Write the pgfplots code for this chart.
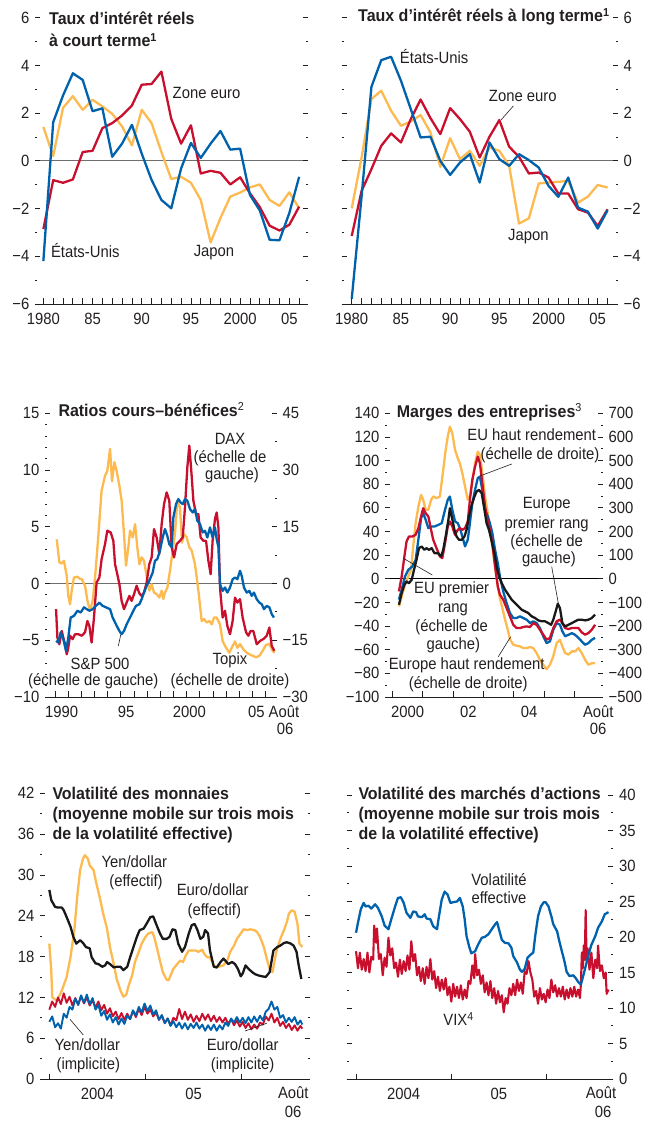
\documentclass[border=0pt]{standalone}
\usepackage{fontspec}
\setmainfont{Liberation Sans}[FakeStretch=0.91]
\newfontfamily\titfont{Liberation Sans}[FakeStretch=0.94]
\usepackage{pgfplots}
\pgfplotsset{compat=1.18}
\definecolor{txt}{RGB}{35,31,32}
\definecolor{cblue}{RGB}{0,98,172}
\definecolor{cred}{RGB}{200,16,46}
\definecolor{cyel}{RGB}{253,186,80}
\definecolor{cblk}{RGB}{25,25,25}
\definecolor{zgray}{RGB}{110,110,110}
\newcommand\lab{\fontsize{16.3}{18}\selectfont}
\newcommand\tit{\titfont\bfseries\fontsize{17}{21}\selectfont}
\newcommand\sups[1]{\raisebox{5.5pt}{\fontsize{11.5}{12}\selectfont #1}}
\pgfplotsset{
 base/.style={scale only axis, anchor=south west, axis line style={draw=none},
   clip=false,
   tick align=inside, major tick length=5.5pt, minor tick length=2.5pt,
   tick style={line width=0.8pt, color=txt},
   tick label style={font=\lab, text=txt, inner sep=0pt},
   xticklabel shift=8.5pt, yticklabel shift=5.5pt,
   xtick pos=left, xticklabel pos=left,
   every axis plot/.append style={line width=2.3pt, line join=round, mark=none},
 },
 zline/.style={extra y ticks={0}, extra y tick labels={}, extra y tick style={grid=major, major grid style={#1, line width=1pt}}},
 noxlab/.style={extra x tick style={major tick length=0pt}},
}
\begin{document}
\begin{tikzpicture}
\path[use as bounding box] (0,0) rectangle (650pt,1123pt);

% ---------------- Panel 1 ----------------
\begin{axis}[base, at={(35pt,819pt)}, width=273pt, height=286.3pt,
  xmin=1979.15, xmax=2006.9, ymin=-6, ymax=6,
  xtick={1980,1981,...,2006},
  xticklabels={1980,,,,,85,,,,,90,,,,,95,,,,,2000,,,,,05,},
  ytick={-6,-4,...,6}, yticklabels={−6,−4,−2,0,2,4,6},
  minor ytick={-5,-3,...,5}, yticklabel pos=left, zline=zgray]
\addplot[cyel] coordinates {(1980,1.42)(1981,0.2)(1982,2.22)(1983,2.71)(1984,2.14)(1985,2.56)(1986,2.28)(1987,1.97)(1988,1.44)(1989,0.65)(1990,2.14)(1991,1.58)(1992,0.37)(1993,-0.76)(1994,-0.67)(1995,-0.92)(1996,-1.64)(1997,-3.42)(1998,-2.4)(1999,-1.5)(2000,-1.33)(2001,-1.11)(2002,-0.99)(2003,-1.64)(2004,-1.89)(2005,-1.32)(2006,-1.99)};
\addplot[cred] coordinates {(1980,-2.86)(1981,-0.81)(1982,-0.92)(1983,-0.78)(1984,0.37)(1985,0.42)(1986,1.37)(1987,1.58)(1988,1.9)(1989,2.32)(1990,3.19)(1991,3.22)(1992,3.74)(1993,1.76)(1994,0.72)(1995,1.49)(1996,-0.53)(1997,-0.42)(1998,-0.5)(1999,-0.99)(2000,-0.69)(2001,-1.36)(2002,-1.94)(2003,-2.72)(2004,-2.92)(2005,-2.68)(2006,-1.92)};
\addplot[cblue] coordinates {(1980,-4.2)(1981,1.62)(1982,2.74)(1983,3.67)(1984,3.39)(1985,2.08)(1986,2.2)(1987,0.17)(1988,0.72)(1989,1.51)(1990,0.3)(1991,-0.8)(1992,-1.64)(1993,-1.99)(1994,-0.32)(1995,0.75)(1996,0.12)(1997,0.72)(1998,1.25)(1999,0.47)(2000,0.51)(2001,-1.43)(2002,-2.08)(2003,-3.31)(2004,-3.33)(2005,-2.19)(2006,-0.67)};
\draw[txt, line width=0.8pt] (rel axis cs:0,0) -- (rel axis cs:1,0);
\end{axis}

% ---------------- Panel 2 ----------------
\begin{axis}[base, at={(341.7pt,819pt)}, width=276.3pt, height=286.3pt,
  xmin=1978.98, xmax=2007.06, ymin=-6, ymax=6,
  xtick={1980,1981,...,2006},
  xticklabels={1980,,,,,85,,,,,90,,,,,95,,,,,2000,,,,,05,},
  ytick={-6,-4,...,6}, yticklabels={−6,−4,−2,0,2,4,6},
  minor ytick={-5,-3,...,5}, yticklabel pos=right, zline=zgray]
\addplot[cyel] coordinates {(1980,-1.99)(1981,0.14)(1982,2.59)(1983,2.94)(1984,2.1)(1985,1.47)(1986,1.65)(1987,1.92)(1988,1.19)(1989,-0.25)(1990,0.95)(1991,0.07)(1992,0.42)(1993,-0.21)(1994,0.56)(1995,0.42)(1996,-0.21)(1997,-2.63)(1998,-2.41)(1999,-0.95)(2000,-0.91)(2001,-0.88)(2002,-0.84)(2003,-1.75)(2004,-1.5)(2005,-1.01)(2006,-1.12)};
\addplot[cred] coordinates {(1980,-3.15)(1981,-1.26)(1982,-0.35)(1983,0.63)(1984,1.15)(1985,0.77)(1986,1.75)(1987,2.57)(1988,1.79)(1989,1.12)(1990,2.21)(1991,1.75)(1992,1.22)(1993,0.14)(1994,1.01)(1995,1.71)(1996,0.59)(1997,0.17)(1998,-0.53)(1999,-0.49)(2000,-0.7)(2001,-1.37)(2002,-1.37)(2003,-2.03)(2004,-2.17)(2005,-2.73)(2006,-2.03)};
\addplot[cblue] coordinates {(1980,-5.78)(1981,-1.5)(1982,3.1)(1983,4.22)(1984,4.36)(1985,3.36)(1986,2.17)(1987,0.98)(1988,1.01)(1989,0)(1990,-0.59)(1991,-0.07)(1992,0.28)(1993,-0.91)(1994,0.77)(1995,0.07)(1996,-0.21)(1997,0.28)(1998,0.03)(1999,-0.28)(2000,-1.05)(2001,-1.51)(2002,-0.7)(2003,-1.96)(2004,-2.13)(2005,-2.84)(2006,-2.07)};
\draw[txt, line width=0.8pt] (rel axis cs:0,0) -- (rel axis cs:1,0);
\end{axis}

% ---------------- Panel 3 (right scale: Topix) ----------------
\begin{axis}[base, at={(45pt,426pt)}, width=232pt, height=283.7pt,
  xmin=1989.24, xmax=2006.86, ymin=-30, ymax=45,
  xtick=\empty, ytick={-30,-15,...,45}, yticklabels={−30,−15,0,15,30,45},
  minor ytick={-22.5,-7.5,7.5,22.5,37.5}, ytick pos=right, yticklabel pos=right, zline=zgray]
\addplot[cyel] coordinates {(1990.13,11.7)(1990.33,5.6)(1990.51,5.3)(1990.68,6.0)(1990.89,2.0)(1991.01,-3.3)(1991.14,-5.5)(1991.27,-1.9)(1991.44,1.6)(1991.70,1.8)(1991.90,1.2)(1992.03,1.2)(1992.28,-0.6)(1992.46,-4.5)(1992.66,-7.2)(1992.86,-4.5)(1993.04,1.5)(1993.29,12.6)(1993.54,24.6)(1993.80,28.5)(1993.97,29.7)(1994.18,35.6)(1994.33,27)(1994.51,32.1)(1994.68,29.7)(1994.89,25.8)(1995.06,21.9)(1995.24,13.1)(1995.39,4.7)(1995.57,9.6)(1995.70,14)(1995.90,12.2)(1996.08,15.7)(1996.25,9.6)(1996.41,5.1)(1996.58,6.9)(1996.76,6)(1996.96,2)(1997.16,-1.9)(1997.34,-0.2)(1997.52,-2.4)(1997.72,-2.8)(1997.92,-3.7)(1998.10,-1.9)(1998.23,-4.1)(1998.35,-2.4)(1998.53,-1.1)(1998.73,3.3)(1998.94,8.7)(1999.11,13.1)(1999.29,21.9)(1999.49,20.1)(1999.65,10.8)(1999.80,13.1)(2000.00,12.2)(2000.20,9.6)(2000.38,8.7)(2000.63,5.1)(2000.89,-1.9)(2001.14,-9.9)(2001.32,-9.4)(2001.52,-10.3)(2001.72,-9.9)(2001.90,-10.8)(2002.08,-9)(2002.28,-9)(2002.53,-10.8)(2002.73,-15.2)(2002.99,-17)(2003.24,-18.3)(2003.42,-17)(2003.67,-15.3)(2003.85,-17)(2004.05,-16)(2004.30,-17.4)(2004.56,-18.3)(2004.76,-18.7)(2005.01,-19.1)(2005.27,-19.5)(2005.52,-19.1)(2005.77,-17.8)(2006.03,-16.2)(2006.28,-16)(2006.53,-17.8)(2006.68,-18.3)};
\end{axis}
% ---------------- Panel 3 (left scale) ----------------
\begin{axis}[base, noxlab, at={(45pt,426pt)}, width=232pt, height=283.7pt,
  xmin=1989.24, xmax=2006.86, ymin=-10, ymax=15,
  xtick={1990,1991,...,2006}, xticklabels={},
  extra x ticks={1990.5,1995.4,2000.2,2005.3}, extra x tick labels={1990,95,2000,05},
  ytick={-10,-5,...,15}, yticklabels={−10,−5,0,5,10,15},
  minor ytick={-9,-8,-7,-6,-4,-3,-2,-1,1,2,3,4,6,7,8,9,11,12,13,14}, ytick pos=left, yticklabel pos=left]
\addplot[cred] coordinates {(1990.08,-2.26)(1990.18,-4.76)(1990.33,-5.35)(1990.51,-4.18)(1990.63,-4.76)(1990.76,-5.35)(1990.89,-6.24)(1991.01,-5.65)(1991.14,-4.6)(1991.34,-4.9)(1991.52,-4.47)(1991.77,-4.47)(1992.03,-4.6)(1992.28,-4.3)(1992.46,-3.3)(1992.61,-3.74)(1992.78,-5.2)(1992.96,-3.0)(1993.16,0.09)(1993.37,0.53)(1993.54,2.15)(1993.80,3.47)(1993.97,4.65)(1994.23,4.5)(1994.43,3.76)(1994.56,1.7)(1994.73,0.82)(1994.89,-0.06)(1995.06,-1.53)(1995.24,-2.26)(1995.44,-1.68)(1995.65,-1.09)(1995.82,-1.53)(1996.00,-0.94)(1996.20,-0.2)(1996.41,-0.88)(1996.58,-1.09)(1996.76,-0.8)(1996.96,0.09)(1997.16,1.7)(1997.34,2.3)(1997.52,4.8)(1997.72,4.06)(1997.92,2.6)(1998.10,5.24)(1998.28,7.0)(1998.48,8.03)(1998.68,7.3)(1998.86,3.2)(1999.04,2.3)(1999.24,3.47)(1999.49,3.76)(1999.70,4.06)(1999.87,6.7)(2000.05,10.24)(2000.20,12.15)(2000.35,9.94)(2000.51,7.3)(2000.71,6.12)(2000.89,6.12)(2001.06,4.06)(2001.27,3.76)(2001.47,3.76)(2001.65,2.0)(2001.82,0.82)(2001.97,3.76)(2002.15,5.7)(2002.28,6.26)(2002.41,4.94)(2002.53,-0.35)(2002.73,-3.0)(2002.91,-2.4)(2003.09,-3.74)(2003.29,-4.47)(2003.49,-3.3)(2003.67,-1.24)(2003.85,-1.68)(2004.05,-1.38)(2004.25,-3.0)(2004.51,-4.3)(2004.68,-4.6)(2004.86,-4.18)(2005.06,-4.18)(2005.32,-5.35)(2005.57,-5.06)(2005.82,-4.9)(2006.08,-4.6)(2006.28,-3.88)(2006.46,-5.5)(2006.66,-5.94)};
\addplot[cblue] coordinates {(1990.08,-5.06)(1990.25,-5.2)(1990.43,-4.3)(1990.63,-4.9)(1990.84,-5.94)(1991.01,-4.76)(1991.19,-3.0)(1991.44,-2.85)(1991.70,-2.4)(1991.95,-2.56)(1992.20,-2.1)(1992.41,-2.26)(1992.61,-2.4)(1992.86,-2.26)(1993.11,-1.97)(1993.37,-1.68)(1993.62,-1.97)(1993.87,-2.1)(1994.18,-2.26)(1994.38,-3.0)(1994.63,-3.6)(1994.89,-4.18)(1995.06,-4.47)(1995.24,-4.18)(1995.44,-3.6)(1995.70,-3.0)(1995.95,-2.4)(1996.15,-1.97)(1996.41,-1.82)(1996.58,-1.38)(1996.76,-0.8)(1996.96,-0.2)(1997.16,0.24)(1997.42,0.97)(1997.59,2.0)(1997.77,2.15)(1997.97,2.9)(1998.18,4.06)(1998.35,4.8)(1998.53,4.2)(1998.68,3.47)(1998.86,3.2)(1998.99,5.82)(1999.19,7.0)(1999.37,7.44)(1999.54,7.15)(1999.70,7.0)(1999.87,7.44)(2000.05,7.3)(2000.25,6.56)(2000.46,6.26)(2000.63,6.56)(2000.81,5.53)(2001.01,5.24)(2001.22,4.5)(2001.39,4.65)(2001.57,4.06)(2001.77,4.94)(2001.97,4.06)(2002.15,4.94)(2002.28,3.9)(2002.41,3.2)(2002.53,-0.06)(2002.73,-0.65)(2002.91,-0.35)(2003.09,-0.8)(2003.29,-0.35)(2003.49,0.38)(2003.67,0.53)(2003.85,0.38)(2004.05,1.12)(2004.18,0.68)(2004.35,-0.35)(2004.56,-0.8)(2004.76,-0.65)(2004.94,-1.09)(2005.11,-0.8)(2005.32,-1.38)(2005.52,-1.68)(2005.70,-1.82)(2005.87,-2.26)(2006.08,-1.97)(2006.28,-2.1)(2006.46,-2.7)(2006.63,-3.0)};
\draw[txt, line width=0.8pt] (rel axis cs:0,0) -- (rel axis cs:1,0);
\end{axis}

% ---------------- Panel 4 (right scale: high yield) ----------------
\begin{axis}[base, at={(385pt,426pt)}, width=218pt, height=283.7pt,
  xmin=1999.75, xmax=2006.94, ymin=-500, ymax=700,
  xtick=\empty, ytick={-500,-400,...,700}, yticklabels={−500,−400,−300,−200,−100,0,100,200,300,400,500,600,700},
  minor ytick={-450,-350,...,650}, ytick pos=right, yticklabel pos=right, zline=black]
\addplot[cyel] coordinates {(2000.21,-117)(2000.30,-75)(2000.41,-25)(2000.52,10)(2000.61,38)(2000.68,137)(2000.76,235)(2000.85,305)(2000.94,355)(2001.01,334)(2001.09,292)(2001.18,292)(2001.27,334)(2001.34,348)(2001.45,341)(2001.56,348)(2001.67,460)(2001.75,545)(2001.82,602)(2001.89,643)(2001.97,615)(2002.06,545)(2002.15,510)(2002.22,488)(2002.30,447)(2002.39,390)(2002.48,334)(2002.55,348)(2002.63,412)(2002.72,488)(2002.81,538)(2002.88,524)(2002.96,447)(2003.05,348)(2003.14,278)(2003.21,207)(2003.29,137)(2003.38,52)(2003.47,-33)(2003.54,-82)(2003.62,-124)(2003.71,-173)(2003.80,-216)(2003.87,-255)(2003.98,-279)(2004.09,-283)(2004.20,-286)(2004.31,-293)(2004.42,-293)(2004.53,-289)(2004.64,-293)(2004.75,-314)(2004.86,-343)(2004.97,-364)(2005.08,-382)(2005.19,-364)(2005.30,-328)(2005.41,-272)(2005.52,-258)(2005.60,-286)(2005.69,-314)(2005.80,-321)(2005.91,-307)(2006.02,-307)(2006.13,-293)(2006.24,-314)(2006.35,-343)(2006.46,-364)(2006.57,-357)(2006.68,-357)};
\addplot[cblue] coordinates {(2000.21,-88)(2000.30,-46)(2000.41,10)(2000.52,38)(2000.65,52)(2000.76,80)(2000.85,165)(2000.94,256)(2001.01,278)(2001.09,250)(2001.18,214)(2001.27,221)(2001.38,221)(2001.51,228)(2001.62,235)(2001.73,292)(2001.82,334)(2001.89,348)(2001.97,292)(2002.06,243)(2002.15,235)(2002.22,214)(2002.30,179)(2002.39,137)(2002.48,165)(2002.55,235)(2002.63,320)(2002.72,376)(2002.81,426)(2002.88,432)(2002.96,376)(2003.05,292)(2003.14,264)(2003.21,235)(2003.29,193)(2003.38,122)(2003.47,66)(2003.54,10)(2003.65,-54)(2003.76,-103)(2003.87,-145)(2003.98,-166)(2004.09,-166)(2004.20,-159)(2004.31,-166)(2004.42,-173)(2004.53,-187)(2004.64,-180)(2004.75,-187)(2004.86,-209)(2004.97,-243)(2005.08,-272)(2005.19,-265)(2005.30,-216)(2005.41,-187)(2005.52,-194)(2005.60,-222)(2005.69,-243)(2005.80,-237)(2005.91,-230)(2006.02,-237)(2006.13,-250)(2006.24,-265)(2006.35,-279)(2006.46,-272)(2006.57,-258)(2006.68,-250)};
\end{axis}
% ---------------- Panel 4 (left scale: investment grade) ----------------
\begin{axis}[base, noxlab, at={(385pt,426pt)}, width=218pt, height=283.7pt,
  xmin=1999.75, xmax=2006.94, ymin=-100, ymax=140,
  xtick={2000,...,2006}, xticklabels={},
  extra x ticks={2000.5,2002.5,2004.5}, extra x tick labels={2000,02,04},
  ytick={-100,-80,...,140}, yticklabels={−100,−80,−60,−40,−20,0,20,40,60,80,100,120,140},
  minor ytick={-90,-70,...,130}, ytick pos=left, yticklabel pos=left]
\addplot[cred] coordinates {(2000.21,-10.7)(2000.30,2)(2000.39,18.9)(2000.46,31.5)(2000.54,35.8)(2000.65,35.8)(2000.76,37.2)(2000.85,42.8)(2000.94,52.7)(2001.01,59.7)(2001.09,55.5)(2001.18,52.7)(2001.27,41.4)(2001.34,33)(2001.45,25.9)(2001.56,18.9)(2001.64,17.5)(2001.73,30.1)(2001.82,44.2)(2001.89,48.5)(2001.97,44.2)(2002.06,37.2)(2002.15,41.4)(2002.22,42.8)(2002.30,41.4)(2002.39,42.8)(2002.48,48.5)(2002.55,66.8)(2002.63,83.7)(2002.72,94.9)(2002.81,103.4)(2002.88,97.7)(2002.96,80.8)(2003.05,61.1)(2003.14,48.5)(2003.21,41.4)(2003.29,30.1)(2003.38,10.4)(2003.47,-6.5)(2003.54,-13.5)(2003.65,-17.7)(2003.76,-24.8)(2003.87,-31.8)(2003.98,-38.9)(2004.09,-41.7)(2004.20,-41.7)(2004.31,-40.8)(2004.42,-40.3)(2004.53,-40.8)(2004.64,-37.5)(2004.75,-38.9)(2004.86,-43.1)(2004.97,-47.3)(2005.08,-51.5)(2005.19,-50.1)(2005.30,-41.7)(2005.41,-36)(2005.52,-34.6)(2005.60,-37.5)(2005.69,-41.7)(2005.80,-42.5)(2005.91,-41.7)(2006.02,-41.7)(2006.13,-41.7)(2006.24,-45.4)(2006.35,-47.3)(2006.46,-45.9)(2006.57,-43.1)(2006.68,-38.9)};
\addplot[cblk] coordinates {(2000.21,-22)(2000.30,-12.1)(2000.39,-5.1)(2000.46,-2.3)(2000.54,-3.7)(2000.63,-0.8)(2000.72,9)(2000.79,16.1)(2000.87,25.9)(2000.96,27.3)(2001.05,24.5)(2001.12,25.9)(2001.20,24.5)(2001.29,25.9)(2001.38,21.7)(2001.49,21.7)(2001.60,18.9)(2001.67,24.5)(2001.75,35.8)(2001.84,49.9)(2001.89,59.7)(2001.95,52.7)(2002.04,41.4)(2002.11,35.8)(2002.19,33)(2002.28,33)(2002.37,35.8)(2002.44,41.4)(2002.52,52.7)(2002.61,62.5)(2002.70,69.6)(2002.77,73.8)(2002.85,75.2)(2002.94,72.4)(2003.03,58.3)(2003.10,47)(2003.18,41.4)(2003.27,31.5)(2003.36,21.7)(2003.43,10.4)(2003.51,2)(2003.60,-3.7)(2003.71,-9.3)(2003.82,-13.5)(2003.93,-17.7)(2004.04,-20.6)(2004.15,-23.4)(2004.26,-26.2)(2004.37,-27.6)(2004.48,-29)(2004.59,-31.8)(2004.70,-33.2)(2004.81,-35.2)(2004.92,-36)(2005.03,-36)(2005.14,-37.5)(2005.23,-38.9)(2005.30,-34.6)(2005.38,-27.6)(2005.45,-21.1)(2005.52,-24.8)(2005.60,-37.5)(2005.69,-40.3)(2005.80,-38.9)(2005.91,-37.5)(2006.02,-36)(2006.13,-34.6)(2006.24,-34.6)(2006.35,-35.2)(2006.46,-34.6)(2006.57,-33.2)(2006.68,-30.4)};
\draw[txt, line width=0.8pt] (rel axis cs:0,0) -- (rel axis cs:1,0);
\end{axis}

% ---------------- Panel 5 ----------------
\begin{axis}[base, noxlab, at={(40pt,44pt)}, width=270pt, height=285.7pt,
  xmin=2003.903, xmax=2006.71, ymin=0, ymax=42,
  xtick={2004,2005,2006}, xticklabels={},
  extra x ticks={2004.5,2005.5}, extra x tick labels={2004,05},
  ytick={0,6,...,42}, minor ytick={3,9,...,39}, yticklabel pos=left,
  yticklabels={0,6,12,18,24,30,36,42}]
\addplot[cyel] coordinates {(2004.00,19.9)(2004.02,16)(2004.03,12)(2004.08,11.5)(2004.13,13)(2004.18,15)(2004.22,17.9)(2004.26,21.9)(2004.29,26.8)(2004.32,30.7)(2004.35,32.4)(2004.37,32.9)(2004.40,32.4)(2004.42,31.4)(2004.46,30.7)(2004.49,28.7)(2004.53,26.3)(2004.56,24.3)(2004.60,22.1)(2004.63,19.4)(2004.67,16.9)(2004.70,14.7)(2004.74,13)(2004.77,12.1)(2004.80,12.4)(2004.82,13.5)(2004.86,15.2)(2004.89,17.2)(2004.93,18.7)(2004.96,19.9)(2005.00,20.9)(2005.03,21.4)(2005.07,21.6)(2005.09,20.9)(2005.12,19.2)(2005.15,17.4)(2005.18,15.7)(2005.22,14.6)(2005.24,14.5)(2005.26,15.2)(2005.29,16.2)(2005.33,16.9)(2005.36,17.4)(2005.39,17.2)(2005.42,18.2)(2005.45,18.9)(2005.48,18.9)(2005.52,18.9)(2005.55,18.7)(2005.59,19)(2005.61,18.4)(2005.64,17.9)(2005.67,17.9)(2005.71,16.7)(2005.74,16.4)(2005.78,16.6)(2005.81,16.7)(2005.85,17.4)(2005.88,18.7)(2005.92,19.6)(2005.95,20.6)(2005.99,21.4)(2006.02,22)(2006.06,21.9)(2006.09,22)(2006.13,21.9)(2006.16,21.6)(2006.19,20.9)(2006.23,19.4)(2006.26,17.7)(2006.29,16.2)(2006.32,15.7)(2006.33,16.5)(2006.36,18.7)(2006.39,20.1)(2006.41,20.9)(2006.44,21.9)(2006.47,23.1)(2006.49,24.3)(2006.52,24.8)(2006.55,24.6)(2006.58,22.8)(2006.60,19.9)(2006.63,19.4)};
\addplot[cblk] coordinates {(2004.00,27.8)(2004.02,26.3)(2004.06,25.3)(2004.09,25.2)(2004.13,25.2)(2004.15,24.8)(2004.18,23.8)(2004.22,22.4)(2004.25,20.9)(2004.28,19.9)(2004.32,20.4)(2004.35,20)(2004.38,19.4)(2004.42,19.2)(2004.44,17.9)(2004.48,17)(2004.51,16.9)(2004.55,16.5)(2004.58,16.7)(2004.60,17.2)(2004.63,16.9)(2004.67,16.4)(2004.70,16.5)(2004.74,16.5)(2004.77,16)(2004.81,16.5)(2004.84,17.9)(2004.88,19.6)(2004.91,20.9)(2004.94,21.9)(2004.98,22.1)(2005.01,22.8)(2005.05,23.8)(2005.08,23.9)(2005.11,22.8)(2005.15,21.4)(2005.18,20.6)(2005.22,20.6)(2005.25,20.9)(2005.28,22)(2005.31,21.9)(2005.34,19.9)(2005.38,18.7)(2005.41,19.4)(2005.45,21.4)(2005.48,22.6)(2005.51,22.8)(2005.54,21.9)(2005.57,20.6)(2005.60,20.9)(2005.62,21.9)(2005.65,21.4)(2005.67,18.9)(2005.71,16.5)(2005.74,16.4)(2005.78,17.2)(2005.81,17.7)(2005.83,17.4)(2005.86,16.9)(2005.90,17.2)(2005.93,16.9)(2005.96,16.2)(2005.99,15.1)(2006.01,15.5)(2006.04,16.7)(2006.07,16.2)(2006.11,15.7)(2006.14,15.4)(2006.18,15.2)(2006.21,15.1)(2006.25,15)(2006.29,15.7)(2006.33,18.9)(2006.37,19.4)(2006.40,19.6)(2006.44,20)(2006.47,20.1)(2006.51,19.9)(2006.54,19.6)(2006.57,18.7)(2006.59,16.9)(2006.62,14.7)};
\addplot[cred, line width=1.9pt] coordinates {(2004.00,10.2)(2004.03,11.4)(2004.06,10.6)(2004.09,12.0)(2004.12,11.0)(2004.15,12.6)(2004.18,11.2)(2004.21,12.1)(2004.24,10.8)(2004.27,11.9)(2004.30,10.9)(2004.33,12.2)(2004.36,11.1)(2004.39,12.0)(2004.42,10.8)(2004.45,11.6)(2004.48,10.5)(2004.51,11.4)(2004.54,10.1)(2004.57,10.9)(2004.60,9.6)(2004.63,10.4)(2004.66,9.2)(2004.69,9.9)(2004.72,8.8)(2004.75,9.7)(2004.78,8.7)(2004.81,9.6)(2004.84,8.8)(2004.87,10.0)(2004.90,9.1)(2004.93,10.3)(2004.96,9.4)(2004.99,10.6)(2005.02,9.6)(2005.05,10.2)(2005.08,9.2)(2005.11,9.8)(2005.14,8.7)(2005.17,9.3)(2005.20,8.2)(2005.23,8.9)(2005.26,7.9)(2005.29,9.0)(2005.32,8.6)(2005.35,10.3)(2005.38,8.8)(2005.41,9.9)(2005.44,8.7)(2005.47,9.5)(2005.50,8.4)(2005.53,9.3)(2005.56,8.5)(2005.59,9.6)(2005.62,8.7)(2005.65,9.5)(2005.68,8.5)(2005.71,9.3)(2005.74,8.4)(2005.77,9.1)(2005.80,8.3)(2005.83,9.0)(2005.86,8.1)(2005.89,8.8)(2005.92,7.9)(2005.95,8.6)(2005.98,7.7)(2006.01,8.4)(2006.04,7.5)(2006.07,8.2)(2006.10,7.3)(2006.13,8.0)(2006.16,7.4)(2006.19,8.3)(2006.22,8.0)(2006.25,9.2)(2006.28,8.6)(2006.31,9.6)(2006.34,8.3)(2006.37,9.0)(2006.40,7.8)(2006.43,8.4)(2006.46,7.5)(2006.49,8.1)(2006.52,7.2)(2006.55,7.9)(2006.58,7.1)(2006.61,7.8)(2006.63,7.4)};
\addplot[cblue, line width=1.9pt] coordinates {(2004.00,8.4)(2004.03,9.2)(2004.06,7.6)(2004.09,8.2)(2004.12,7.4)(2004.15,9.6)(2004.18,9.0)(2004.21,10.6)(2004.24,10.2)(2004.27,11.8)(2004.30,10.9)(2004.33,12.3)(2004.36,11.2)(2004.39,12.4)(2004.42,11.0)(2004.45,11.9)(2004.48,10.2)(2004.51,10.9)(2004.54,9.3)(2004.57,10.0)(2004.60,8.7)(2004.63,9.5)(2004.66,8.3)(2004.69,9.1)(2004.72,8.0)(2004.75,8.9)(2004.78,8.1)(2004.81,9.3)(2004.84,8.8)(2004.87,10.1)(2004.90,9.3)(2004.93,10.6)(2004.96,9.8)(2004.99,11.1)(2005.02,10.0)(2005.05,10.8)(2005.08,9.5)(2005.11,10.1)(2005.14,8.7)(2005.17,9.4)(2005.20,8.2)(2005.23,8.9)(2005.26,7.8)(2005.29,8.5)(2005.32,7.6)(2005.35,8.3)(2005.38,7.4)(2005.41,8.2)(2005.44,7.3)(2005.47,8.1)(2005.50,7.5)(2005.53,8.3)(2005.56,7.4)(2005.59,8.0)(2005.62,7.1)(2005.65,7.9)(2005.68,7.2)(2005.71,8.0)(2005.74,7.1)(2005.77,7.9)(2005.80,7.3)(2005.83,8.3)(2005.86,7.8)(2005.89,8.9)(2005.92,8.3)(2005.95,9.1)(2005.98,8.3)(2006.01,9.0)(2006.04,8.2)(2006.07,9.1)(2006.10,8.3)(2006.13,9.2)(2006.16,8.4)(2006.19,9.3)(2006.22,8.6)(2006.25,9.9)(2006.28,10.3)(2006.31,11.4)(2006.34,10.2)(2006.37,10.6)(2006.40,9.0)(2006.43,9.4)(2006.46,8.3)(2006.49,9.0)(2006.52,8.4)(2006.55,9.1)(2006.58,8.0)(2006.61,8.6)(2006.63,8.0)};
\draw[txt, line width=0.8pt] (rel axis cs:0,0) -- (rel axis cs:1,0);
\end{axis}

% ---------------- Panel 6 ----------------
\begin{axis}[base, noxlab, at={(346.7pt,44pt)}, width=266.6pt, height=284pt,
  xmin=2003.902, xmax=2006.70, ymin=0, ymax=40,
  xtick={2004,2005,2006}, xticklabels={},
  extra x ticks={2004.5,2005.5}, extra x tick labels={2004,05},
  ytick={0,5,...,40}, minor ytick={2.5,7.5,...,37.5}, yticklabel pos=right,
  yticklabels={0,5,10,15,20,25,30,35,40}]
\addplot[cred, line width=2.1pt] coordinates {(2004.00,18.0)(2004.02,15.6)(2004.04,17.8)(2004.06,15.4)(2004.08,16.9)(2004.10,15.2)(2004.12,17.8)(2004.14,15.0)(2004.16,17.2)(2004.18,16.8)(2004.19,21.6)(2004.21,19.2)(2004.22,21.2)(2004.24,16.9)(2004.26,17.6)(2004.28,14.6)(2004.30,17.1)(2004.32,15.8)(2004.34,19.9)(2004.36,17.4)(2004.38,18.4)(2004.40,15.6)(2004.42,16.4)(2004.44,14.4)(2004.46,16.8)(2004.48,14.8)(2004.50,16.6)(2004.52,15.2)(2004.54,17.4)(2004.56,15.4)(2004.58,19.4)(2004.60,16.6)(2004.62,17.6)(2004.64,14.6)(2004.66,15.8)(2004.68,13.8)(2004.70,15.6)(2004.72,13.4)(2004.74,15.8)(2004.76,14.2)(2004.78,16.9)(2004.80,14.0)(2004.82,15.2)(2004.84,12.8)(2004.86,14.4)(2004.88,12.4)(2004.90,14.0)(2004.92,12.6)(2004.94,14.2)(2004.96,11.8)(2004.98,13.0)(2005.00,10.9)(2005.02,13.4)(2005.04,11.6)(2005.06,13.0)(2005.08,11.4)(2005.10,13.2)(2005.12,11.2)(2005.14,12.6)(2005.16,11.4)(2005.18,13.8)(2005.20,13.4)(2005.22,16.0)(2005.24,14.2)(2005.25,17.6)(2005.27,14.6)(2005.29,15.4)(2005.31,13.4)(2005.33,14.6)(2005.35,12.2)(2005.37,13.6)(2005.39,11.8)(2005.41,13.8)(2005.43,11.4)(2005.45,12.8)(2005.47,10.6)(2005.49,12.4)(2005.51,10.8)(2005.53,11.8)(2005.55,9.4)(2005.57,11.4)(2005.59,10.6)(2005.61,12.8)(2005.63,11.8)(2005.65,13.4)(2005.67,11.8)(2005.69,14.0)(2005.71,12.4)(2005.73,13.6)(2005.75,12.0)(2005.77,15.2)(2005.79,14.8)(2005.81,16.6)(2005.83,15.0)(2005.85,14.0)(2005.87,11.6)(2005.89,12.4)(2005.91,10.6)(2005.93,12.8)(2005.95,11.2)(2005.97,12.0)(2005.99,10.8)(2006.01,12.6)(2006.03,11.4)(2006.05,14.0)(2006.07,12.2)(2006.09,13.2)(2006.11,11.6)(2006.13,12.8)(2006.15,11.6)(2006.17,13.0)(2006.19,11.2)(2006.21,12.6)(2006.23,11.4)(2006.25,12.8)(2006.27,11.6)(2006.29,13.0)(2006.31,11.6)(2006.33,12.6)(2006.35,11.4)(2006.36,13.4)(2006.37,17.8)(2006.38,15.6)(2006.39,18.8)(2006.40,16.8)(2006.41,23.8)(2006.42,16.6)(2006.43,18.4)(2006.45,15.4)(2006.47,17.8)(2006.49,14.2)(2006.51,16.8)(2006.53,15.6)(2006.54,18.8)(2006.56,15.2)(2006.58,16.0)(2006.60,14.2)(2006.62,15.0)(2006.63,12.0)(2006.65,12.6)};
\addplot[cblue] coordinates {(2004.00,20.6)(2004.02,22)(2004.05,23.9)(2004.08,24.8)(2004.10,24.3)(2004.13,24.4)(2004.16,24)(2004.20,24.6)(2004.23,24.1)(2004.27,22.9)(2004.30,21.6)(2004.34,21.1)(2004.37,22.5)(2004.41,24.3)(2004.44,25.5)(2004.47,25.6)(2004.50,24.8)(2004.53,23.4)(2004.57,22.7)(2004.60,23.6)(2004.63,23.5)(2004.65,22.9)(2004.69,22.8)(2004.72,23.2)(2004.74,22.6)(2004.78,22.5)(2004.81,21.5)(2004.85,21.1)(2004.87,22.9)(2004.90,25.3)(2004.93,26.4)(2004.96,26)(2004.99,24.8)(2005.02,24.9)(2005.06,25)(2005.09,25.5)(2005.12,24.3)(2005.14,22.5)(2005.16,20.1)(2005.19,18.5)(2005.21,17.7)(2005.25,18)(2005.28,18.9)(2005.32,19.9)(2005.35,20)(2005.39,20.4)(2005.42,21)(2005.46,21.8)(2005.48,22.1)(2005.50,21.1)(2005.53,19.6)(2005.56,19.2)(2005.60,19.1)(2005.63,18.5)(2005.65,17.3)(2005.69,16.4)(2005.72,15.4)(2005.74,15.1)(2005.77,15.5)(2005.80,17.1)(2005.83,17.5)(2005.86,17.8)(2005.88,20.1)(2005.91,22.9)(2005.94,24.3)(2005.97,24.9)(2005.99,24.9)(2006.02,24.3)(2006.05,22.9)(2006.07,21.8)(2006.11,20.8)(2006.13,19.6)(2006.16,18)(2006.19,16.4)(2006.21,15.1)(2006.24,14.5)(2006.28,14.6)(2006.30,14.3)(2006.33,13.7)(2006.36,13.3)(2006.38,14.3)(2006.41,15.9)(2006.44,17.5)(2006.47,18.9)(2006.51,20.1)(2006.54,21.3)(2006.58,22.2)(2006.61,23.2)(2006.65,23.5)};
\draw[txt, line width=0.8pt] (rel axis cs:0,0) -- (rel axis cs:1,0);
\end{axis}

% ---------------- texts ----------------
\begin{scope}[x=1pt, y=-1pt, shift={(0pt,1123pt)}, every node/.style={text=txt, inner sep=0pt}]
\tikzset{L/.style={font=\lab, anchor=base}, T/.style={font=\tit, anchor=base west}}
% titles
\node[T] at (49,25) {Taux d’intérêt réels};
\node[T] at (49,46.7) {à court terme\sups{1}};
\node[T] at (358,21.7) {Taux d’intérêt réels à long terme\sups{1}};
\node[T] at (58.3,416.5) {Ratios cours–bénéfices\sups{\mdseries 2}};
\node[T] at (396.7,417.5) {Marges des entreprises\sups{\mdseries 3}};
\node[T] at (52.3,799.3) {Volatilité des monnaies};
\node[T] at (52.3,819.3) {(moyenne mobile sur trois mois};
\node[T] at (52.3,839.3) {de la volatilité effective)};
\node[T] at (358.3,799.3) {Volatilité des marchés d’actions};
\node[T] at (358.3,819.3) {(moyenne mobile sur trois mois};
\node[T] at (358.3,839.3) {de la volatilité effective)};
% panel 1
\node[L] at (206.5,98.5) {Zone euro};
\node[L] at (85.3,258) {États-Unis};
\node[L] at (214,257) {Japon};
% panel 2
\node[L] at (434.2,64) {États-Unis};
\node[L] at (522.8,101.7) {Zone euro};
\node[L] at (528.3,240.7) {Japon};
\draw[txt, line width=0.6pt] (501,120) -- (513.3,106);
% panel 3
\node[L] at (230,445) {DAX};
\node[L] at (230,462.5) {(échelle de};
\node[L] at (232,480) {gauche)};
\node[L] at (100,670) {S\&P 500};
\node[L] at (93.3,685.5) {(échelle de gauche)};
\node[L] at (230,665) {Topix};
\node[L] at (230,685.5) {(échelle de droite)};
\draw[txt, line width=0.6pt] (118.3,646) -- (120.7,635);
\node[L] at (284,717.5) {Août};
\node[L] at (285,735) {06};
% panel 4
\node[L] at (531.7,440.7) {EU haut rendement};
\node[L] at (540,460) {(échelle de droite)};
\node[L] at (546.7,509) {Europe};
\node[L] at (546.7,528.3) {premier rang};
\node[L] at (546.7,546.7) {(échelle de};
\node[L] at (549,564) {gauche)};
\node[L] at (451.7,594) {EU premier};
\node[L] at (453,612.7) {rang};
\node[L] at (451.7,631.7) {(échelle de};
\node[L] at (453.3,649.3) {gauche)};
\node[L] at (466.7,670) {Europe haut rendement};
\node[L] at (468.3,688.3) {(échelle de droite)};
\draw[txt, line width=0.6pt] (511.7,464) -- (480,476);
\draw[txt, line width=0.6pt] (551.7,566.7) -- (558.3,603.3);
\draw[txt, line width=0.6pt] (432.3,575) -- (403.3,558.3);
\draw[txt, line width=0.6pt] (498.3,656.7) -- (510.7,636.7);
\node[L] at (598.3,717.5) {Août};
\node[L] at (598,735) {06};
% panel 5
\node[L] at (134.3,867.3) {Yen/dollar};
\node[L] at (136,886.7) {(effectif)};
\node[L] at (212.7,896) {Euro/dollar};
\node[L] at (214.3,915.7) {(effectif)};
\node[L] at (87.3,1050.7) {Yen/dollar};
\node[L] at (88.3,1069.3) {(implicite)};
\node[L] at (242.7,1050.7) {Euro/dollar};
\node[L] at (242.7,1069.3) {(implicite)};
\draw[txt, line width=0.6pt] (83.3,1035) -- (70,1019.3);
\draw[txt, line width=0.6pt] (245,1031) -- (266.7,1023.3);
\node[L] at (293.3,1098.5) {Août};
\node[L] at (293,1117.5) {06};
% panel 6
\node[L] at (499,886) {Volatilité};
\node[L] at (499,904) {effective};
\node[L] at (458.3,1026) {VIX\sups{4}};
\node[L] at (601,1098.5) {Août};
\node[L] at (603,1117.5) {06};
\end{scope}
\end{tikzpicture}
\end{document}
